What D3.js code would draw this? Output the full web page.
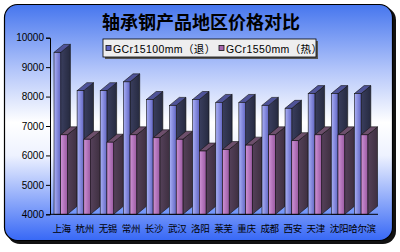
<!DOCTYPE html>
<html>
<head>
<meta charset="utf-8">
<script src="https://cdn.jsdelivr.net/npm/d3@7"></script>
<style>
  body { margin: 0; background: #fff; }
  svg { display: block; }
  .tick text { font-family: "Liberation Sans", Arial, sans-serif; font-size: 10px; fill: #000; }
  .cat { font-family: "Noto Sans CJK SC", sans-serif; font-size: 9.5px; fill: #000; letter-spacing: -0.3px; }
  .title { font-family: "Noto Sans CJK SC", sans-serif; font-size: 18px; font-weight: bold; fill: #000; }
  .leg { font-family: "Liberation Sans", "Noto Sans CJK SC", sans-serif; font-size: 10.5px; fill: #000; }
</style>
</head>
<body>
<div id="chart"></div>
<script>
var cities = ["上海", "杭州", "无锡", "常州", "长沙", "武汉", "洛阳", "莱芜", "重庆", "成都", "西安", "天津", "沈阳", "哈尔滨"];
var annealed = [9500, 8200, 8200, 8500, 7900, 7700, 7900, 7800, 7800, 7700, 7600, 8100, 8100, 8100];
var hotRolled = [6700, 6550, 6450, 6700, 6600, 6550, 6150, 6200, 6350, 6700, 6500, 6700, 6700, 6700];
var seriesNames = ["GCr15100mm（退）", "GCr1550mm（热）"];
var yTicks = [4000, 5000, 6000, 7000, 8000, 9000, 10000];

var width = 400, height = 252;

var svg = d3.select("#chart").append("svg")
	.attr("width", width)
	.attr("height", height);

var defs = svg.append("defs");

var bg = defs.append("linearGradient").attr("id", "bgGrad")
	.attr("x1", 0).attr("y1", 0).attr("x2", 0).attr("y2", 1);
bg.append("stop").attr("offset", "0%").attr("stop-color", "#4676ee");
bg.append("stop").attr("offset", "28%").attr("stop-color", "#b4c6fa");
bg.append("stop").attr("offset", "50%").attr("stop-color", "#ffffff");
bg.append("stop").attr("offset", "64%").attr("stop-color", "#eef2ff");
bg.append("stop").attr("offset", "100%").attr("stop-color", "#3768f6");

function faceGrad(id, c1, c2) {
	var g = defs.append("linearGradient").attr("id", id)
		.attr("x1", 0).attr("y1", 0).attr("x2", 1).attr("y2", 0);
	g.append("stop").attr("offset", "0%").attr("stop-color", c1);
	g.append("stop").attr("offset", "100%").attr("stop-color", c2);
}
faceGrad("blueFront", "#aab0f6", "#6266c4");
faceGrad("pinkFront", "#cf92d6", "#9a5aa2");
faceGrad("blueSide", "#3a3e5e", "#262a40");
faceGrad("pinkSide", "#55415a", "#3e2f40");

// frame with shadow
svg.append("rect")
	.attr("x", 7).attr("y", 7)
	.attr("width", 389).attr("height", 237)
	.attr("rx", 13)
	.attr("fill", "#111");

svg.append("rect")
	.attr("x", 4.5).attr("y", 4.5)
	.attr("width", 388).attr("height", 236)
	.attr("rx", 13)
	.attr("fill", "url(#bgGrad)")
	.attr("stroke", "#000")
	.attr("stroke-width", 1.2);

svg.append("text")
	.attr("class", "title")
	.attr("x", 201)
	.attr("y", 21)
	.attr("text-anchor", "middle")
	.attr("dominant-baseline", "central")
	.text("轴承钢产品地区价格对比");

var x = d3.scaleBand().domain(cities).range([54, 377.5]);
var y = d3.scaleLinear().domain([4000, 10000]).range([214.3, 37.7]);

var bw = x.bandwidth();
var barW = bw * 0.29;
var dx = bw * 0.42, dy = -8;

// value axis
var yAxis = d3.axisLeft(y).tickValues(yTicks).tickSize(4).tickPadding(2).tickFormat(d3.format("d"));
var ag = svg.append("g")
	.attr("transform", "translate(50,0)")
	.call(yAxis);
ag.select(".domain").attr("stroke", "#000");
ag.selectAll(".tick line").attr("stroke", "#000");

function drawBar(g, x0, val, front, side, top) {
	var yt = y(val), yb = y(4000);
	g.append("polygon")
		.attr("points", [[x0 + barW, yt], [x0 + barW + dx, yt + dy], [x0 + barW + dx, yb + dy], [x0 + barW, yb]].join(" "))
		.attr("fill", side)
		.attr("stroke", "#111")
		.attr("stroke-width", 0.6);
	g.append("polygon")
		.attr("points", [[x0, yt], [x0 + dx, yt + dy], [x0 + barW + dx, yt + dy], [x0 + barW, yt]].join(" "))
		.attr("fill", top)
		.attr("stroke", "#111")
		.attr("stroke-width", 0.6);
	g.append("rect")
		.attr("x", x0).attr("y", yt)
		.attr("width", barW).attr("height", yb - yt)
		.attr("fill", front)
		.attr("stroke", "#111")
		.attr("stroke-width", 0.6);
}

var groups = svg.selectAll(".grp")
	.data(cities)
	.enter()
	.append("g")
	.attr("class", "grp");

groups.each(function(d, i) {
	var g = d3.select(this);
	drawBar(g, x(d), annealed[i], "url(#blueFront)", "url(#blueSide)", "#4f5398");
	drawBar(g, x(d) + barW, hotRolled[i], "url(#pinkFront)", "url(#pinkSide)", "#6d4f6c");
});

// floor line
svg.append("line")
	.attr("x1", 50).attr("x2", 378)
	.attr("y1", y(4000)).attr("y2", y(4000))
	.attr("stroke", "#000");

svg.selectAll(".cat")
	.data(cities)
	.enter()
	.append("text")
	.attr("class", "cat")
	.attr("x", function(d) { return x(d) + bw * 0.33; })
	.attr("y", 228)
	.attr("text-anchor", "middle")
	.attr("dominant-baseline", "central")
	.text(function(d) { return d; });

// legend
var leg = svg.append("g").attr("transform", "translate(103,39)");
leg.append("rect").attr("x", 2).attr("y", 2).attr("width", 213).attr("height", 18).attr("fill", "#555");
leg.append("rect").attr("x", 0).attr("y", 0).attr("width", 213).attr("height", 18)
	.attr("fill", "#eeeeef").attr("stroke", "#000").attr("stroke-width", 0.8);

var legX = [3, 116];
var legColors = ["#6266c4", "#a865ae"];
seriesNames.forEach(function(name, i) {
	leg.append("rect")
		.attr("x", legX[i]).attr("y", 6.5)
		.attr("width", 5).attr("height", 5)
		.attr("fill", legColors[i])
		.attr("stroke", "#111").attr("stroke-width", 0.8);
	leg.append("text")
		.attr("class", "leg")
		.attr("x", legX[i] + 7)
		.attr("y", 9.5)
		.attr("dominant-baseline", "central")
		.attr("letter-spacing", 0.4)
		.text(name);
});
</script>
</body>
</html>
